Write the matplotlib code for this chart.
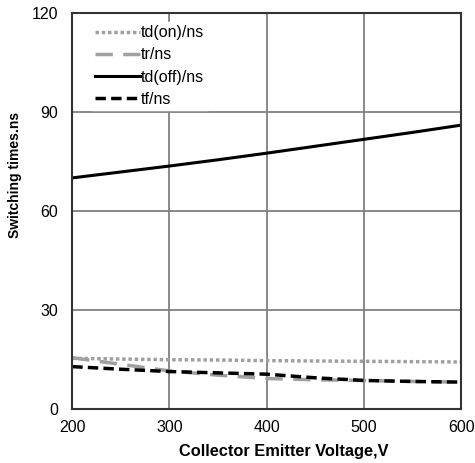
import matplotlib
matplotlib.use("Agg")
import matplotlib.pyplot as plt

plt.rcParams['font.family'] = ['Liberation Sans', 'DejaVu Sans']

# switching times vs collector-emitter voltage
vce = [200, 250, 300, 350, 400, 450, 500, 550, 600]
td_on = [15.3, 15.1, 14.9, 14.8, 14.6, 14.5, 14.4, 14.3, 14.2]
tr = [15.5, 13.5, 11.5, 10.2, 9.2, 8.8, 8.6, 8.3, 8.1]
td_off = [70.0, 71.8, 73.6, 75.5, 77.5, 79.6, 81.7, 83.8, 86.0]
tf = [12.8, 12.0, 11.3, 10.9, 10.5, 9.4, 8.6, 8.3, 8.1]

fig, ax = plt.subplots(figsize=(4.75, 4.63), dpi=100)
fig.subplots_adjust(left=0.152, right=0.971, bottom=0.117, top=0.972)

ax.plot(vce, td_on, color="#a0a0a0", lw=2.5, ls=(0, (1, 0.8)), label="td(on)/ns")
ax.plot(vce, tr, color="#a0a0a0", lw=2.5, ls=(0, (5, 3)), label="tr/ns")
ax.plot(vce, td_off, color="black", lw=2.2, label="td(off)/ns")
ax.plot(vce, tf, color="black", lw=2.5, ls=(0, (3, 1.5)), label="tf/ns")

ax.set_xlim(200, 600)
ax.set_ylim(0, 120)
ax.set_xticks([200, 300, 400, 500, 600])
ax.set_yticks([0, 30, 60, 90, 120])
ax.tick_params(labelsize=11.5, length=0)
ax.tick_params(axis="x", pad=8)
ax.tick_params(axis="y", pad=10)
ax.grid(color="#808080", lw=1.3)
for s in ax.spines.values():
    s.set_color("#333333")
    s.set_linewidth(1.5)

ax.set_xlabel("Collector Emitter Voltage,V", fontsize=11.8, fontweight="bold")
ax.set_ylabel("Switching times.ns", fontsize=10, fontweight="bold")
ax.xaxis.set_label_coords(0.545, -0.09)
ax.yaxis.set_label_coords(-0.128, 0.59)

leg = ax.legend(loc="upper left", bbox_to_anchor=(0.05, 0.977), borderaxespad=0,
                fontsize=11.5, frameon=True, framealpha=1, edgecolor="white",
                fancybox=False, handlelength=2.8, handletextpad=0.1,
                labelspacing=0.45, borderpad=0.2)

fig.savefig("out.png", dpi=100)
